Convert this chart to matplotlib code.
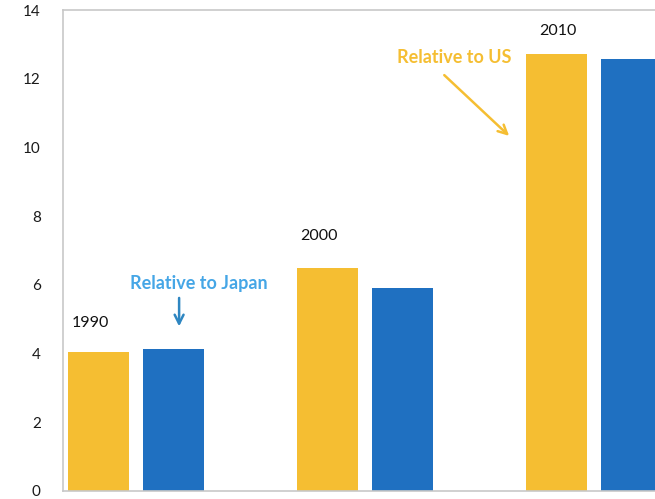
import numpy as np
import matplotlib.pyplot as plt

plt.rcParams['font.family'] = ['Lato', 'DejaVu Sans']

years = ["1990", "2000", "2010"]
rel_us = [4.05, 6.48, 12.72]
rel_japan = [4.12, 5.90, 12.56]
yticks = [0, 2, 4, 6, 8, 10, 12, 14]

yellow = "#F5BE32"
blue = "#1F70C1"

fig = plt.figure(figsize=(6.55, 4.99), dpi=100)
ax = fig.add_axes([63 / 655, 1 - 491 / 499, 1 - 63 / 655, (491 - 10) / 499])

x = np.arange(len(years))
w = 0.266
off = 0.164
ax.bar(x - off, rel_us, width=w, color=yellow)
ax.bar(x + off, rel_japan, width=w, color=blue)

ax.set_xlim(-0.319, 2.266)
ax.set_ylim(0, 14)
ax.set_yticks(yticks)
ax.set_xticks([])
ax.tick_params(axis='y', length=0, pad=16, labelsize=11, labelcolor="#1a1a1a")

for side in ["left", "bottom", "top"]:
    ax.spines[side].set_color("#C8C8C8")
    ax.spines[side].set_linewidth(1.2)
ax.spines["right"].set_visible(False)

# year labels
label_x = [-0.20, 0.80, 1.84]
label_y = [4.89, 7.42, 13.40]
for lx, ly, yr in zip(label_x, label_y, years):
    ax.text(lx, ly, yr, ha="center", va="center", fontsize=11.5, color="#111111")

# annotations
ax.text(0.275, 6.05, "Relative to Japan", ha="center", va="center",
        fontsize=13, fontweight="bold", color="#45A6E6")
ax.annotate("", xy=(0.188, 4.71), xytext=(0.188, 5.70),
            arrowprops=dict(arrowstyle="->", color="#2E86C1", lw=1.8,
                            mutation_scale=16))

ax.text(1.39, 12.63, "Relative to US", ha="center", va="center",
        fontsize=13, fontweight="bold", color=yellow)
ax.annotate("", xy=(1.638, 10.28), xytext=(1.337, 12.16),
            arrowprops=dict(arrowstyle="->", color=yellow, lw=1.8,
                            mutation_scale=16))

fig.savefig("out.png", dpi=100)
